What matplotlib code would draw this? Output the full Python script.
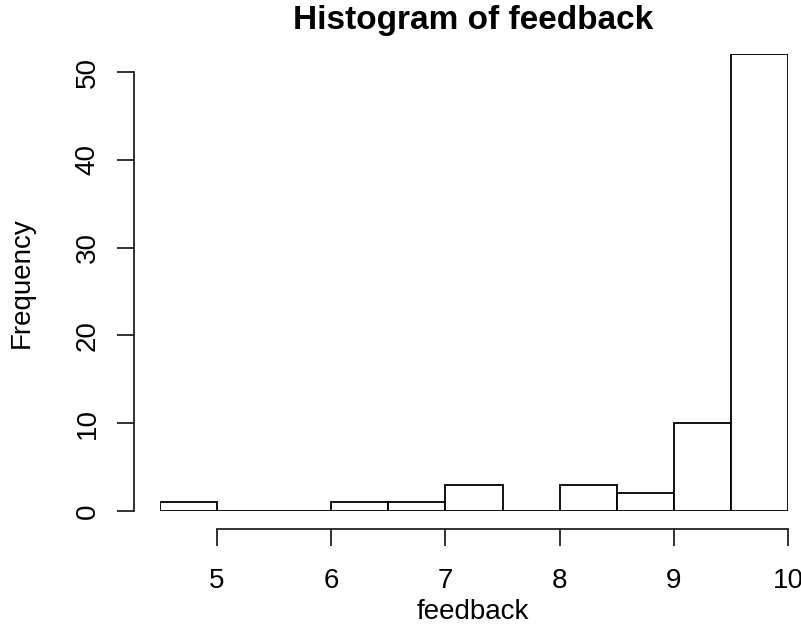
import numpy as np
import matplotlib
matplotlib.use("Agg")
import matplotlib.pyplot as plt

plt.rcParams['font.family'] = ['Liberation Sans', 'DejaVu Sans']

# histogram bins (width 0.5) and counts
bin_edges = [4.5, 5.0, 5.5, 6.0, 6.5, 7.0, 7.5, 8.0, 8.5, 9.0, 9.5, 10.0]
counts = [1, 0, 0, 1, 1, 3, 0, 3, 2, 10, 52]
x_ticks = [5, 6, 7, 8, 9, 10]
y_ticks = [0, 10, 20, 30, 40, 50]

W, H = 801, 625
fig = plt.figure(figsize=(W / 100, H / 100), dpi=100)

# axes placed in pixels: x 4.5 -> 160px, 10 -> 788px ; y 0 -> 511px, 50 -> 72px
px_per_y = 8.78
left, right = 160, 788
bottom_px = 511
top_px = bottom_px - 52 * px_per_y
ax = fig.add_axes([left / W, (H - bottom_px) / H, (right - left) / W, (bottom_px - top_px) / H])

edges = np.array(bin_edges)
ax.bar(edges[:-1], counts, width=np.diff(edges), align="edge",
       facecolor="white", edgecolor="black", linewidth=1.3)

ax.set_xlim(4.5, 10)
ax.set_ylim(0, 52)

for s in ["top", "right"]:
    ax.spines[s].set_visible(False)
ax.spines["left"].set_position(("outward", 26 * 0.72))
ax.spines["bottom"].set_position(("outward", 18 * 0.72))
ax.spines["left"].set_bounds(0, 50)
ax.spines["bottom"].set_bounds(5, 10)
for s in ["left", "bottom"]:
    ax.spines[s].set_linewidth(1.3)
    ax.spines[s].set_color("#222222")

ax.set_xticks(x_ticks)
ax.set_yticks(y_ticks)
ax.tick_params(axis="both", length=12, width=1.3, color="#222222", labelsize=20)
ax.tick_params(axis="x", pad=16)
ax.tick_params(axis="y", pad=12)
ax.set_yticklabels([str(v) for v in y_ticks], rotation=90, va="center")
ax.set_xticklabels([str(v) for v in x_ticks])

fig.text(473 / W, 1 - 612 / H, "feedback", ha="center", va="center", fontsize=20)
fig.text(22 / W, 1 - 283 / H, "Frequency", ha="center", va="center",
         rotation=90, fontsize=20)
fig.text(473 / W, 1 - 20 / H, "Histogram of feedback", ha="center", va="center",
         fontsize=24, fontweight="bold")

fig.savefig("out.png", dpi=100)
